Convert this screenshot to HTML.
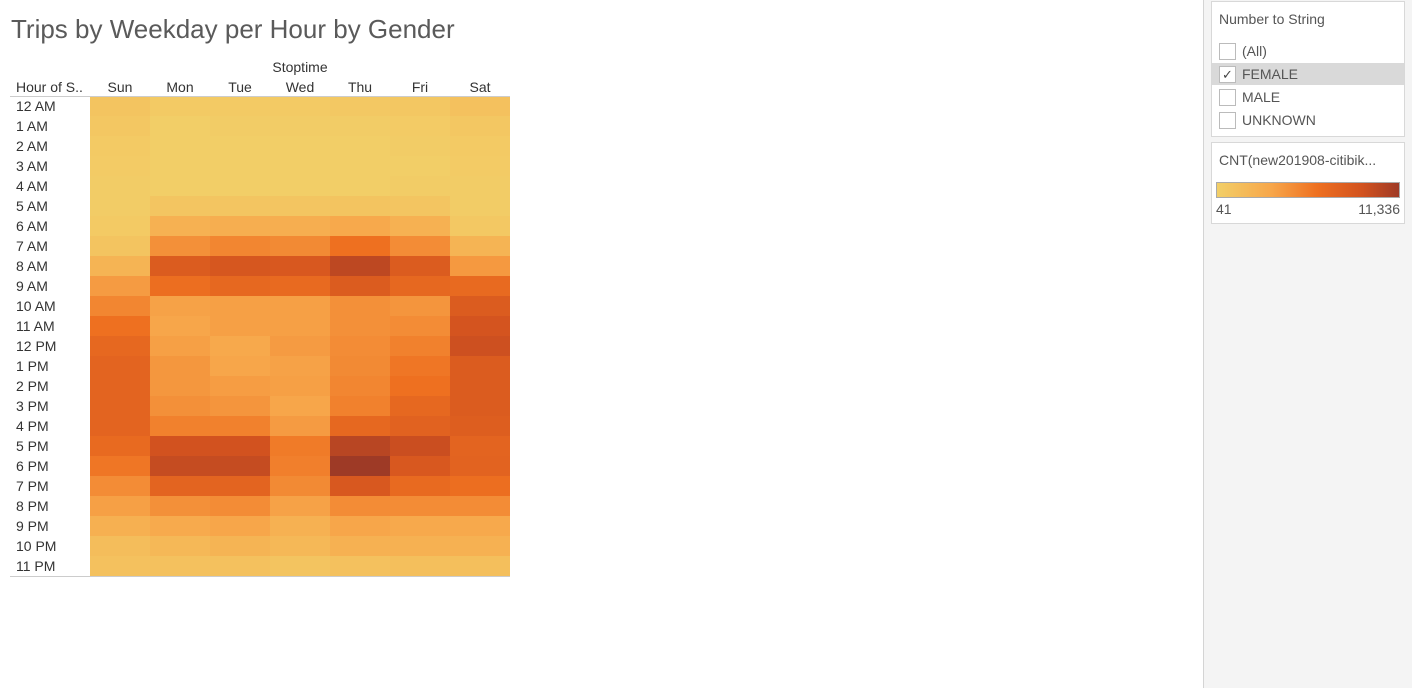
<!DOCTYPE html>
<html><head><meta charset="utf-8"><style>
body{margin:0;width:1412px;height:688px;background:#fff;font-family:"Liberation Sans",sans-serif;position:relative;overflow:hidden;color:#333}
.abs{position:absolute}
#side{left:1203px;top:0;width:209px;height:688px;background:#f4f4f4;border-left:1px solid #d4d4d4}
.box{position:absolute;left:7px;width:192px;background:#fff;border:1px solid #d8d8d8}
.item{position:absolute;left:0;width:192px;height:22px;font-size:14px;color:#555;line-height:22px}
.cb{position:absolute;left:7px;top:3px;width:15px;height:15px;border:1px solid #bbb;background:#fff;font-size:13px;line-height:15px;text-align:center;color:#444}
.item span{position:absolute;left:30px}
</style></head><body>
<div class="abs" style="left:11px;top:14px;font-size:26px;color:#5a5a5a;font-weight:300">Trips by Weekday per Hour by Gender</div>
<svg class="abs" style="left:0;top:0" width="1200" height="688" id="chart"></svg>
<div id="side" class="abs">
 <div class="box" style="top:1px;height:134px">
  <div class="abs" style="left:7px;top:9px;font-size:14px;color:#555">Number to String</div>
  <div class="item" style="top:38px"><div class="cb"></div><span>(All)</span></div>
  <div class="item" style="top:61px;background:#d9d9d9"><div class="cb">✓</div><span>FEMALE</span></div>
  <div class="item" style="top:84px"><div class="cb"></div><span>MALE</span></div>
  <div class="item" style="top:107px"><div class="cb"></div><span>UNKNOWN</span></div>
 </div>
 <div class="box" style="top:142px;height:80px">
  <div class="abs" style="left:7px;top:9px;font-size:14px;color:#555">CNT(new201908-citibik...</div>
  <div class="abs" style="left:4px;top:39px;width:182px;height:14px;border:1px solid #aaa;background:linear-gradient(to right,#f2cf68,#f7a64a 30%,#ee7020 55%,#d2521f 80%,#9e3a26)"></div>
  <div class="abs" style="left:4px;top:58px;font-size:14px;color:#555">41</div>
  <div class="abs" style="right:4px;top:58px;font-size:14px;color:#555">11,336</div>
 </div>
</div>
<script>
const days=["Sun","Mon","Tue","Wed","Thu","Fri","Sat"];
const hours=["12 AM","1 AM","2 AM","3 AM","4 AM","5 AM","6 AM","7 AM","8 AM","9 AM","10 AM","11 AM","12 PM","1 PM","2 PM","3 PM","4 PM","5 PM","6 PM","7 PM","8 PM","9 PM","10 PM","11 PM"];
const counts=[
[945,493,493,493,606,719,1171],
[719,154,267,267,267,380,719],
[493,154,154,154,154,267,493],
[380,154,154,154,154,154,380],
[267,154,154,154,154,267,267],
[267,832,832,832,945,832,267],
[493,2526,2752,2752,3204,2526,606],
[945,4559,5124,4898,6253,4785,2300],
[2300,8173,8625,8512,9981,8173,4107],
[3994,6479,7044,6818,8173,7044,6818],
[5124,3655,3768,3768,4559,4333,8173],
[6253,3430,3768,3768,4559,4785,8851],
[7044,3768,3204,3994,4785,5350,9303],
[7383,4220,3430,3655,4898,5914,8173],
[7383,4220,3881,3768,5124,6253,8173],
[7383,4559,4333,3430,5350,7044,8173],
[7383,5350,5350,3994,7044,7609,7948],
[6818,9077,9077,5688,10207,9416,7383],
[5914,9642,9642,5462,11336,8512,7496],
[4785,7383,7383,4898,8512,6818,6479],
[3768,4559,4785,3655,4785,4785,4785],
[2639,3091,3430,2526,3430,3204,3204],
[1510,1962,2300,1962,2526,2526,2526],
[1171,1171,1171,945,1171,1397,1397]];
const vmin=41,vmax=11336;
const stops=[[0,[242,207,104]],[0.3,[247,166,74]],[0.55,[238,112,32]],[0.8,[210,82,31]],[1,[158,58,38]]];
function color(v){let t=(v-vmin)/(vmax-vmin);t=Math.max(0,Math.min(1,t));
 for(let i=1;i<stops.length;i++){if(t<=stops[i][0]){const a=stops[i-1],b=stops[i],f=(t-a[0])/(b[0]-a[0]);
 return "rgb("+a[1].map((c,k)=>Math.round(c+(b[1][k]-c)*f)).join(",")+")";}}return "rgb(158,58,38)";}
const X0=90,CW=60,Y0=96,RH=20;
const xPos=i=>X0+i*CW, yPos=j=>Y0+j*RH;
const NS="http://www.w3.org/2000/svg",svg=document.getElementById("chart");
function mk(tag,attrs,txt){const e=document.createElementNS(NS,tag);for(const k in attrs)e.setAttribute(k,attrs[k]);if(txt!=null)e.textContent=txt;svg.appendChild(e);return e;}
const st=mk("text",{x:300,y:72,"text-anchor":"middle","font-size":14,fill:"#333","font-family":"Liberation Sans, sans-serif"},"Stoptime");


const rt=mk("text",{x:16,y:92,"font-size":14,fill:"#333","font-family":"Liberation Sans, sans-serif"},"Hour of S..");


days.forEach((d,i)=>{const t=mk("text",{x:xPos(i)+CW/2,y:92,"text-anchor":"middle","font-size":14,fill:"#333","font-family":"Liberation Sans, sans-serif"},d);

});
hours.forEach((h,j)=>{const t=mk("text",{x:16,y:yPos(j)+15,"font-size":14,fill:"#333","font-family":"Liberation Sans, sans-serif"},h);


counts[j].forEach((v,i)=>{const r=mk("rect",{x:xPos(i),y:yPos(j),width:CW,height:RH,fill:color(v)});

});});
const l1=mk("line",{x1:10,x2:510,y1:96.5,y2:96.5,stroke:"#ccc"});


const l2=mk("line",{x1:10,x2:510,y1:576.5,y2:576.5,stroke:"#ccc"});


</script>
</body></html>
